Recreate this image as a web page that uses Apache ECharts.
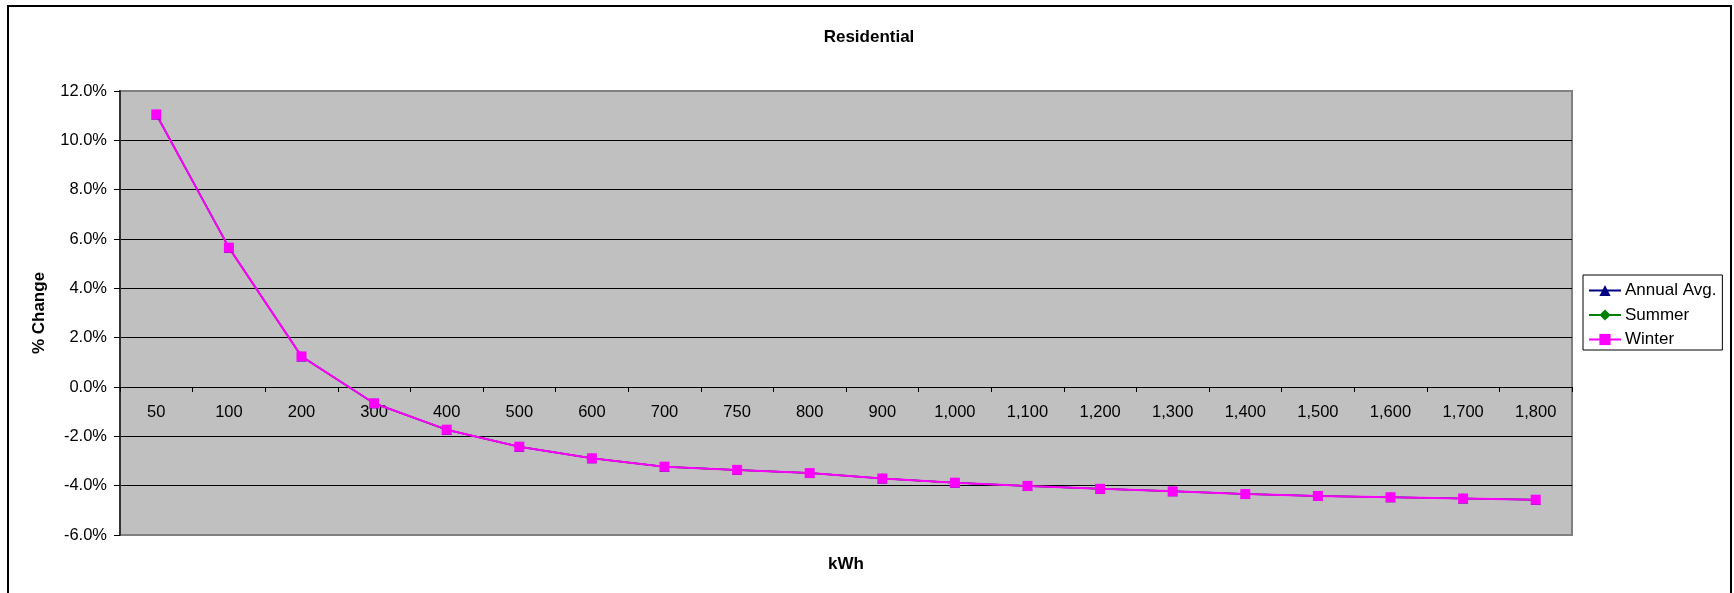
<!DOCTYPE html>
<html>
<head>
<meta charset="utf-8">
<title>Residential</title>
<script src="https://cdn.jsdelivr.net/npm/echarts@6/dist/echarts.min.js"></script>
<style>
  html, body { margin: 0; padding: 0; background: #fff; }
  #chart { width: 1734px; height: 593px; }
</style>
</head>
<body>
<div id="chart"></div>
<script>
// Monthly consumption levels (kWh) shown along the category axis
const kwhLabels = ['50', '100', '200', '300', '400', '500', '600', '700', '750', '800',
  '900', '1,000', '1,100', '1,200', '1,300', '1,400', '1,500', '1,600', '1,700', '1,800'];

// Percent change in bill by season (values in %)
const annualAvg = [11.05, 5.65, 1.24, -0.66, -1.73, -2.42, -2.89, -3.23, -3.36, -3.49,
  -3.71, -3.88, -4.01, -4.13, -4.23, -4.34, -4.42, -4.47, -4.52, -4.57];
const summer = [11.05, 5.65, 1.24, -0.66, -1.73, -2.42, -2.89, -3.23, -3.36, -3.49,
  -3.71, -3.88, -4.01, -4.13, -4.23, -4.34, -4.42, -4.47, -4.52, -4.57];
const winter = [11.05, 5.65, 1.24, -0.66, -1.73, -2.42, -2.89, -3.23, -3.36, -3.49,
  -3.71, -3.88, -4.01, -4.13, -4.23, -4.34, -4.42, -4.47, -4.52, -4.57];

// Value axis range and step (%)
const yMin = -6, yMax = 12, yStep = 2;

const FONT = "'Liberation Sans', Arial, sans-serif";
const GRID = { left: 120, right: 162, top: 91, bottom: 58 };

const chart = echarts.init(document.getElementById('chart'), null, { renderer: 'canvas' });

function seasonSeries(name, data, color, symbol, size, width) {
  return {
    name: name,
    type: 'line',
    data: data,
    symbol: symbol,
    symbolSize: size,
    showAllSymbol: true,
    lineStyle: { color: color, width: width },
    itemStyle: { color: color, borderWidth: 0 },
    emphasis: { disabled: true }
  };
}

chart.setOption({
  animation: false,
  backgroundColor: '#ffffff',
  textStyle: { fontFamily: FONT, color: '#000' },
  title: [
    {
      text: 'Residential',
      left: 869, top: 29, padding: 0,
      textAlign: 'center',
      textStyle: { fontFamily: FONT, fontSize: 17, fontWeight: 'bold', color: '#000' }
    },
    {
      text: 'kWh',
      left: 846, top: 556, padding: 0,
      textAlign: 'center',
      textStyle: { fontFamily: FONT, fontSize: 17, fontWeight: 'bold', color: '#000' }
    }
  ],
  legend: {
    orient: 'vertical',
    left: 1583, top: 275,
    padding: [7, 6, 2, 5],
    itemGap: 7.5,
    itemWidth: 32,
    itemHeight: 14,
    backgroundColor: '#fff',
    borderColor: '#000',
    borderWidth: 1,
    borderRadius: 0,
    textStyle: { fontFamily: FONT, fontSize: 17, color: '#000', padding: [0, 0, 0, -1] },
    data: ['Annual Avg.', 'Summer', 'Winter']
  },
  grid: Object.assign({
    show: true,
    backgroundColor: '#c0c0c0',
    borderColor: '#808080',
    borderWidth: 2
  }, GRID),
  xAxis: {
    type: 'category',
    data: kwhLabels,
    boundaryGap: true,
    axisLine: { onZero: false, lineStyle: { color: '#000', width: 1 } },
    axisTick: { show: true, inside: false, length: 5, lineStyle: { color: '#000' } },
    axisLabel: { fontFamily: FONT, fontSize: 16.5, color: '#000', margin: 17, interval: 0 },
    splitLine: { show: false }
  },
  yAxis: {
    type: 'value',
    min: yMin, max: yMax, interval: yStep,
    name: '% Change',
    nameLocation: 'middle',
    nameGap: 72,
    nameTextStyle: { fontFamily: FONT, fontSize: 17, fontWeight: 'bold', color: '#000' },
    axisLine: { show: true, lineStyle: { color: '#333', width: 2 } },
    axisTick: { show: true, inside: false, length: 6, lineStyle: { color: '#000' } },
    axisLabel: {
      fontFamily: FONT, fontSize: 16.5, color: '#000', margin: 13,
      formatter: function (v) { return v.toFixed(1) + '%'; }
    },
    splitLine: { show: true, showMinLine: false, showMaxLine: false, lineStyle: { color: '#000', width: 1 } }
  },
  graphic: [
    {
      type: 'rect',
      silent: true,
      z: -1,
      shape: { x: 8, y: 6, width: 1723, height: 620 },
      style: { fill: null, stroke: '#000', lineWidth: 2 }
    }
  ],
  series: [
    seasonSeries('Annual Avg.', annualAvg, '#000080', 'triangle', 10, 1.5),
    seasonSeries('Summer', summer, '#008000', 'diamond', 10, 1.5),
    seasonSeries('Winter', winter, '#ff00ff', 'rect', 10, 2)
  ]
});

// Lift the category axis (line, ticks and labels) up to the 0% level
const zeroY = chart.convertToPixel({ yAxisIndex: 0 }, 0);
const bottomY = chart.getHeight() - GRID.bottom;
chart.setOption({ xAxis: { offset: zeroY - bottomY } });
</script>
</body>
</html>
